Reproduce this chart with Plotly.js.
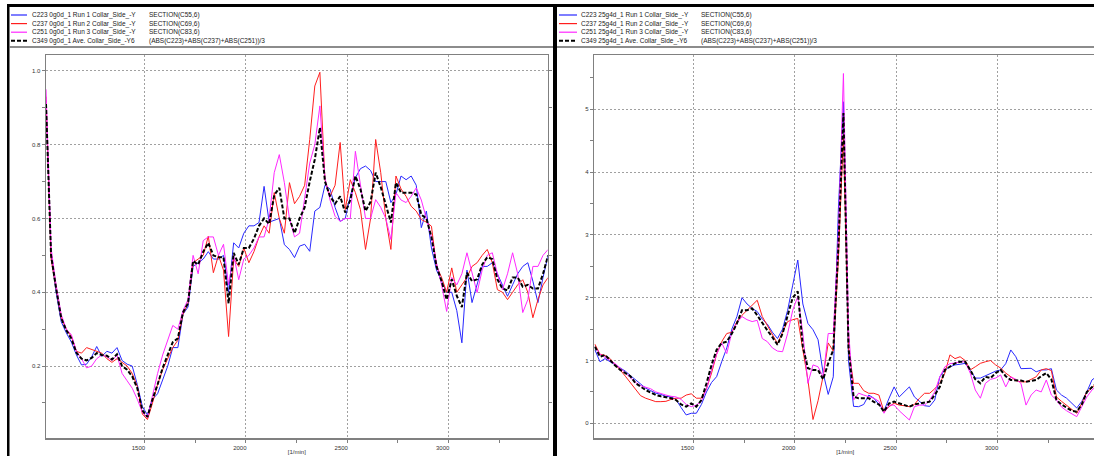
<!DOCTYPE html>
<html>
<head>
<meta charset="utf-8">
<script src="https://cdn.plot.ly/plotly-3.0.1.min.js"></script>
<style>
html,body{margin:0;padding:0;overflow:hidden;background:#fff;}
#chart{width:1100px;height:456px;}
</style>
</head>
<body>
<div id="chart"></div>
<script>
// ---------------- DATA ----------------
const rpm = [1015,1040,1065,1090,1115,1140,1165,1190,1215,1240,1265,1290,1315,1340,1365,1390,1415,1440,1465,1490,
1515,1540,1565,1590,1615,1640,1665,1690,1715,1740,1765,1790,1815,1840,1865,1890,1915,1940,1965,1990,
2015,2040,2065,2090,2115,2140,2165,2190,2215,2240,2265,2290,2315,2340,2365,2390,2415,2440,2465,2490,
2515,2540,2565,2590,2615,2640,2665,2690,2715,2740,2765,2790,2815,2840,2865,2890,2915,2940,2965,2990,
3015,3040,3065,3090,3115,3140,3165,3190,3215,3240,3265,3290,3315,3340,3365,3390,3415,3440,3465,3490];

// Left panel (0g0d_1)
const left_run1 = [0.92,0.50,0.40,0.32,0.29,0.265,0.23,0.203,0.205,0.225,0.253,0.226,0.24,0.235,0.25,0.215,0.205,0.2,0.15,0.09,
0.068,0.11,0.125,0.16,0.2,0.25,0.25,0.34,0.36,0.47,0.48,0.49,0.51,0.49,0.49,0.5,0.4,0.534,0.52,0.56,
0.58,0.58,0.589,0.687,0.59,0.595,0.6,0.529,0.516,0.494,0.525,0.53,0.511,0.62,0.63,0.69,0.68,0.63,0.592,0.6,
0.66,0.71,0.735,0.742,0.73,0.7,0.7,0.7,0.643,0.665,0.715,0.705,0.715,0.69,0.575,0.62,0.52,0.46,0.43,0.4,
0.4,0.35,0.263,0.46,0.372,0.42,0.47,0.47,0.48,0.45,0.42,0.389,0.42,0.45,0.47,0.48,0.43,0.372,0.44,0.5];
const left_run2 = [0.93,0.49,0.41,0.33,0.3,0.28,0.24,0.235,0.25,0.245,0.24,0.235,0.22,0.21,0.22,0.21,0.2,0.18,0.145,0.07,
0.055,0.1,0.15,0.19,0.22,0.25,0.27,0.34,0.37,0.48,0.49,0.5,0.552,0.453,0.5,0.46,0.28,0.49,0.47,0.52,
0.48,0.51,0.55,0.58,0.56,0.67,0.6,0.56,0.697,0.64,0.66,0.69,0.814,0.959,0.996,0.705,0.66,0.69,0.806,0.624,
0.705,0.67,0.624,0.516,0.6,0.814,0.724,0.6,0.516,0.715,0.68,0.66,0.633,0.62,0.597,0.59,0.579,0.47,0.44,0.4,
0.466,0.4,0.42,0.44,0.47,0.48,0.5,0.516,0.48,0.407,0.4,0.38,0.4,0.42,0.434,0.4,0.331,0.38,0.42,0.44];
const left_run3 = [0.95,0.52,0.42,0.34,0.3,0.285,0.24,0.22,0.195,0.2,0.22,0.23,0.225,0.215,0.23,0.18,0.16,0.14,0.11,0.075,
0.06,0.12,0.18,0.23,0.27,0.31,0.3,0.35,0.38,0.5,0.45,0.54,0.55,0.55,0.5,0.53,0.42,0.5,0.434,0.49,
0.5,0.52,0.55,0.55,0.6,0.724,0.773,0.697,0.6,0.55,0.56,0.66,0.75,0.8,0.905,0.71,0.65,0.606,0.592,0.6,
0.6,0.782,0.69,0.6,0.6,0.651,0.63,0.6,0.543,0.67,0.65,0.643,0.66,0.683,0.65,0.6,0.55,0.48,0.42,0.348,
0.44,0.42,0.45,0.507,0.45,0.399,0.46,0.5,0.507,0.45,0.407,0.45,0.507,0.45,0.345,0.38,0.47,0.47,0.5,0.516];
const left_ave = [0.91,0.5,0.41,0.33,0.297,0.275,0.236,0.22,0.215,0.222,0.235,0.23,0.228,0.218,0.232,0.2,0.19,0.172,0.14,0.08,
0.062,0.11,0.15,0.195,0.23,0.265,0.275,0.345,0.37,0.485,0.475,0.51,0.534,0.5,0.495,0.495,0.37,0.507,0.475,0.52,
0.52,0.545,0.58,0.6,0.585,0.663,0.683,0.6,0.6,0.56,0.6,0.63,0.7,0.76,0.846,0.7,0.66,0.64,0.66,0.616,
0.65,0.715,0.68,0.62,0.645,0.724,0.685,0.635,0.589,0.697,0.67,0.67,0.67,0.665,0.61,0.6,0.55,0.47,0.43,0.38,
0.435,0.39,0.36,0.453,0.43,0.435,0.475,0.495,0.49,0.435,0.41,0.405,0.44,0.44,0.415,0.42,0.41,0.41,0.45,0.5];

// Right panel (25g4d_1)
const right_run1 = [1.17,0.98,1.03,0.98,0.93,0.88,0.83,0.76,0.69,0.62,0.56,0.52,0.48,0.46,0.43,0.42,0.38,0.25,0.133,0.16,
0.16,0.3,0.5,0.65,0.743,0.98,1.2,1.5,1.7,2.0,1.9,1.83,1.78,1.66,1.58,1.45,1.35,1.5,1.8,2.2,
2.6,1.9,1.59,1.49,1.33,0.8,0.46,0.74,3.4,5.12,1.0,0.27,0.265,0.3,0.45,0.4,0.3,0.2,0.4,0.58,
0.42,0.5,0.58,0.42,0.35,0.28,0.27,0.37,0.74,0.85,0.9,0.93,0.94,0.955,0.85,0.72,0.72,0.76,0.8,0.83,
0.85,0.95,1.168,1.06,0.87,0.87,0.876,0.82,0.85,0.85,0.87,0.53,0.45,0.4,0.32,0.244,0.35,0.5,0.69,0.75];
const right_run2 = [1.26,1.1,1.08,1.03,0.93,0.85,0.75,0.65,0.55,0.44,0.4,0.37,0.345,0.345,0.35,0.38,0.4,0.4,0.45,0.47,
0.4,0.4,0.55,0.8,1.1,1.3,1.43,1.45,1.62,1.72,1.8,1.88,1.96,1.7,1.55,1.4,1.27,1.45,1.62,1.65,
1.67,1.17,0.69,0.06,0.36,0.75,1.28,1.15,2.6,4.6,1.2,0.637,0.637,0.52,0.478,0.478,0.45,0.186,0.265,0.32,
0.29,0.28,0.265,0.3,0.4,0.478,0.478,0.55,0.637,0.8,1.09,1.03,1.06,1.0,0.85,0.9,0.955,0.98,1.0,0.93,
0.88,0.8,0.74,0.68,0.66,0.66,0.7,0.74,0.85,0.87,0.84,0.42,0.35,0.29,0.22,0.16,0.32,0.5,0.56,0.66];
const right_run3 = [1.22,1.1,1.05,1.0,0.95,0.88,0.8,0.73,0.65,0.6,0.58,0.55,0.5,0.47,0.45,0.43,0.42,0.38,0.3,0.265,
0.29,0.35,0.55,0.85,1.1,1.28,1.11,1.45,1.6,1.7,1.65,1.62,1.64,1.35,1.3,1.2,1.15,1.14,1.43,1.8,
2.02,1.43,0.637,0.93,0.9,0.74,1.43,1.43,3.0,5.57,1.5,0.37,0.48,0.45,0.42,0.4,0.35,0.16,0.29,0.29,
0.2,0.12,0.053,0.265,0.29,0.29,0.37,0.5,0.74,0.9,0.95,0.96,0.98,0.98,0.8,0.53,0.4,0.637,0.7,0.72,
0.77,0.58,0.74,0.7,0.637,0.29,0.45,0.53,0.5,0.69,0.45,0.37,0.26,0.2,0.15,0.106,0.265,0.42,0.53,0.6];
const right_ave = [1.22,1.06,1.09,1.0,0.92,0.85,0.8,0.75,0.64,0.58,0.53,0.49,0.451,0.43,0.42,0.4,0.37,0.3,0.265,0.318,
0.265,0.37,0.637,0.93,1.17,1.28,1.3,1.43,1.59,1.8,1.8,1.83,1.72,1.59,1.48,1.37,1.25,1.43,1.7,2.0,
2.1,1.22,0.876,0.85,0.85,0.7,0.955,1.17,2.8,4.94,1.2,0.424,0.4,0.4,0.4,0.34,0.3,0.186,0.318,0.345,
0.32,0.3,0.265,0.3,0.318,0.33,0.345,0.45,0.58,0.85,0.9,0.955,0.98,0.98,0.85,0.7,0.637,0.74,0.72,0.8,
0.85,0.75,0.69,0.69,0.68,0.66,0.68,0.69,0.75,0.8,0.7,0.37,0.3,0.25,0.2,0.186,0.3,0.5,0.58,0.65];

const leftLabels = ["C223 0g0d_1 Run 1 Collar_Side_-Y","C237 0g0d_1 Run 2 Collar_Side_-Y","C251 0g0d_1 Run 3 Collar_Side_-Y","C349 0g0d_1 Ave. Collar_Side_-Y6"];
const rightLabels = ["C223 25g4d_1 Run 1 Collar_Side_-Y","C237 25g4d_1 Run 2 Collar_Side_-Y","C251 25g4d_1 Run 3 Collar_Side_-Y","C349 25g4d_1 Ave. Collar_Side_-Y6"];
const formulas = ["SECTION(C55,6)","SECTION(C69,6)","SECTION(C83,6)","(ABS(C223)+ABS(C237)+ABS(C251))/3"];
const xTitle = "[1/min]";

// ---------------- STYLE / LAYOUT ----------------
const W = 1100, H = 456;
const colors = ['rgb(40,40,255)','rgb(255,30,30)','rgb(255,40,255)','#000000'];
const FONT = 'Liberation Sans, Arial, sans-serif';
const px = v => v / W;
const py = v => 1 - v / H;

function tr(y, i, name, xa, ya) {
  const isAve = i === 3;
  return {x: rpm, y: y, type: 'scatter', mode: 'lines', name: name, xaxis: xa, yaxis: ya,
    showlegend: false, hoverinfo: 'skip',
    line: {color: colors[i], width: isAve ? 2 : 1, dash: isAve ? '4px,2px' : 'solid'}};
}

const data = [
  tr(left_run1, 0, leftLabels[0], 'x', 'y'),
  tr(left_run2, 1, leftLabels[1], 'x', 'y'),
  tr(left_run3, 2, leftLabels[2], 'x', 'y'),
  tr(left_ave, 3, leftLabels[3], 'x', 'y'),
  tr(right_run1, 0, rightLabels[0], 'x2', 'y2'),
  tr(right_run2, 1, rightLabels[1], 'x2', 'y2'),
  tr(right_run3, 2, rightLabels[2], 'x2', 'y2'),
  tr(right_ave, 3, rightLabels[3], 'x2', 'y2')
];

const axBase = {
  showline: true, linecolor: '#808080', linewidth: 1.5,
  ticks: 'outside', ticklen: 3, tickcolor: '#808080', tickwidth: 1,
  showgrid: true, gridcolor: '#a0a0a0', gridwidth: 1, griddash: '2px,2px',
  zeroline: false, tickfont: {size: 6, color: '#333', family: FONT}
};
const yDom = [1 - 438 / H, 1 - 55 / H];

const xaxisCommon = Object.assign({}, axBase, {
  mirror: true, dtick: 500, tick0: 1000, ticklabelshift: -6,
  minor: {tickvals: [1750, 2250, 2750, 3250], ticks: 'outside', ticklen: 3, tickcolor: '#808080', showgrid: false},
  title: {text: xTitle, font: {size: 6, color: '#333', family: FONT}, standoff: 0}
});

const layout = {
  width: W, height: H, margin: {l: 0, r: 0, t: 0, b: 0},
  paper_bgcolor: '#fff', plot_bgcolor: '#fff', showlegend: false,
  xaxis: Object.assign({}, xaxisCommon, {domain: [px(46), px(547.7)], range: [1015, 3488], anchor: 'y'}),
  yaxis: Object.assign({}, axBase, {domain: yDom, range: [0.005, 1.043], anchor: 'x', mirror: 'ticks',
    dtick: 0.2, tick0: 0, tickformat: '.1f',
    minor: {dtick: 0.1, tick0: 0, ticks: 'outside', ticklen: 3, tickcolor: '#808080', showgrid: false}}),
  xaxis2: Object.assign({}, xaxisCommon, {domain: [px(594.3), px(1096)], range: [1012, 3485], anchor: 'y2'}),
  yaxis2: Object.assign({}, axBase, {domain: yDom, range: [-0.234, 5.865], anchor: 'x2', mirror: 'ticks',
    dtick: 1, tick0: 0,
    minor: {dtick: 0.5, tick0: 0, ticks: 'outside', ticklen: 3, tickcolor: '#808080', showgrid: false}}),
  shapes: [],
  annotations: []
};

// window frame
layout.shapes.push({type: 'rect', xref: 'paper', yref: 'paper', x0: px(7), x1: 1, y0: py(7), y1: py(4), fillcolor: '#000', line: {width: 0}});
layout.shapes.push({type: 'rect', xref: 'paper', yref: 'paper', x0: px(7), x1: px(9.5), y0: 0, y1: py(4), fillcolor: '#000', line: {width: 0}});
layout.shapes.push({type: 'rect', xref: 'paper', yref: 'paper', x0: px(553), x1: px(557), y0: 0, y1: py(4), fillcolor: '#000', line: {width: 0}});
layout.shapes.push({type: 'line', xref: 'paper', yref: 'paper', x0: px(9.5), x1: px(553), y0: py(47), y1: py(47), line: {color: '#666', width: 1.5}});
layout.shapes.push({type: 'line', xref: 'paper', yref: 'paper', x0: px(557), x1: 1, y0: py(47), y1: py(47), line: {color: '#666', width: 1.5}});

// legends
const rowsY = [15, 23.6, 32.2, 40.7];
function addLegend(labels, xs0, xs1, xt, xf) {
  for (let i = 0; i < 4; i++) {
    layout.shapes.push({type: 'line', xref: 'paper', yref: 'paper', x0: px(xs0), x1: px(xs1), y0: py(rowsY[i]), y1: py(rowsY[i]),
      line: {color: colors[i], width: i === 3 ? 2 : 1.2, dash: i === 3 ? '4px,2px' : 'solid'}});
    layout.annotations.push({xref: 'paper', yref: 'paper', x: px(xt), y: py(rowsY[i]), xanchor: 'left', yanchor: 'middle',
      text: labels[i], showarrow: false, font: {size: 6.5, color: '#222', family: FONT}, borderpad: 0});
    layout.annotations.push({xref: 'paper', yref: 'paper', x: px(xf), y: py(rowsY[i]), xanchor: 'left', yanchor: 'middle',
      text: formulas[i], showarrow: false, font: {size: 6.5, color: '#222', family: FONT}, borderpad: 0});
  }
}
addLegend(leftLabels, 11, 27, 31, 148);
addLegend(rightLabels, 559, 577, 580, 700);

Plotly.newPlot('chart', data, layout, {staticPlot: true, displayModeBar: false});
</script>
</body>
</html>
